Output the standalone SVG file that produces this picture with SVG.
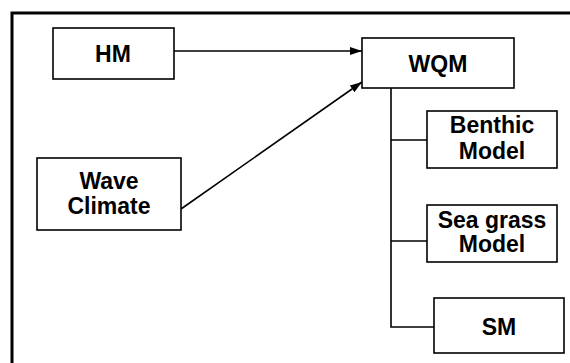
<svg xmlns="http://www.w3.org/2000/svg" width="570" height="363" viewBox="0 0 570 363">
<style>
.box{fill:#fff;stroke:#000;stroke-width:1.6}
.t{font-family:"Liberation Sans",Arial,sans-serif;font-weight:bold;font-size:23px;text-anchor:middle;fill:#000}
.c{fill:none;stroke:#000;stroke-width:1.6}
</style>
<defs>
<marker id="ah" viewBox="0 0 12 8" refX="12" refY="4" markerWidth="12" markerHeight="8" markerUnits="userSpaceOnUse" orient="auto">
<path d="M0,0 L12,4 L0,8 Z" fill="#000"/>
</marker>
</defs>
<rect width="570" height="363" fill="#fff"/>
<path d="M12,363 V13 H570" fill="none" stroke="#000" stroke-width="3"/>
<g id="connectors">
<line class="c" x1="174" y1="51" x2="362" y2="51" marker-end="url(#ah)"/>
<line class="c" x1="181" y1="209" x2="362" y2="82" marker-end="url(#ah)"/>
<path class="c" d="M391,88 V327 H434"/>
<line class="c" x1="391" y1="140" x2="427" y2="140"/>
<line class="c" x1="391" y1="241" x2="427" y2="241"/>
</g>
<g id="HM">
<rect class="box" x="53" y="28" width="121" height="51"/>
<text class="t" x="113" y="62">HM</text>
</g>
<g id="WQM">
<rect class="box" x="362" y="38" width="152" height="50"/>
<text class="t" x="438" y="72">WQM</text>
</g>
<g id="WaveClimate">
<rect class="box" x="37" y="158" width="144" height="72"/>
<text class="t" x="109" y="189">Wave</text>
<text class="t" x="109" y="214">Climate</text>
</g>
<g id="Benthic">
<rect class="box" x="427" y="111" width="130" height="57"/>
<text class="t" x="492" y="133">Benthic</text>
<text class="t" x="492" y="159">Model</text>
</g>
<g id="SeaGrass">
<rect class="box" x="427" y="205" width="130" height="57"/>
<text class="t" x="492" y="228">Sea grass</text>
<text class="t" x="492" y="252">Model</text>
</g>
<g id="SM">
<rect class="box" x="434" y="298" width="130" height="55"/>
<text class="t" x="499" y="335">SM</text>
</g>
</svg>
